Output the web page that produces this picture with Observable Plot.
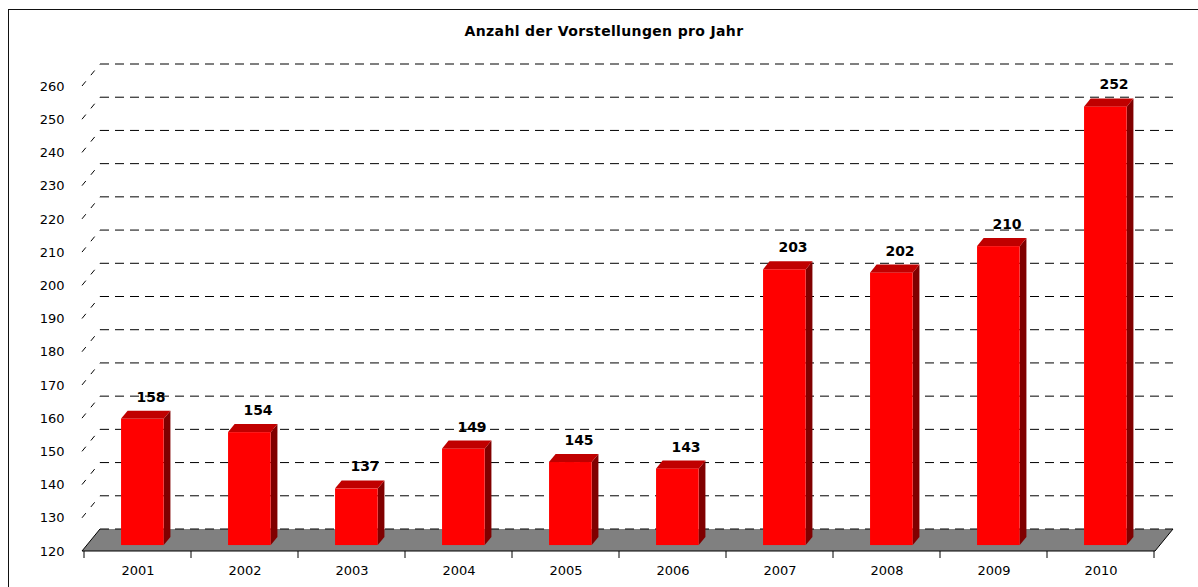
<!DOCTYPE html>
<html>
<head>
<meta charset="utf-8">
<script src="https://cdn.jsdelivr.net/npm/d3@7"></script>
<script src="https://cdn.jsdelivr.net/npm/@observablehq/plot@0.6"></script>
<style>
  body { margin: 0; background: #fff; font-family: "DejaVu Sans", Verdana, sans-serif; }
  #wrap { position: relative; width: 1198px; height: 587px; overflow: hidden; background: #fff; }
  #frame { position: absolute; left: 8px; top: 9px; width: 1400px; height: 800px;
           border-top: 1.5px solid #111; border-left: 1.5px solid #111; }
  #title { position: absolute; left: 0; width: 1208px; top: 23px; line-height: 17px;
           text-align: center; font-weight: bold; font-size: 14px; letter-spacing: 0.35px; color: #000; }
  #chart { position: absolute; left: 0; top: 0; }
</style>
</head>
<body>
<div id="wrap">
  <div id="frame"></div>
  <div id="chart"></div>
  <div id="title">Anzahl der Vorstellungen pro Jahr</div>
</div>
<script>
// ---- data ----
const years = ["2001", "2002", "2003", "2004", "2005", "2006", "2007", "2008", "2009", "2010"];
const values = [158, 154, 137, 149, 145, 143, 203, 202, 210, 252];
const yTicks = [120, 130, 140, 150, 160, 170, 180, 190, 200, 210, 220, 230, 240, 250, 260];
const yDomain = [120, 260];

const data = years.map((year, i) => ({year, value: values[i]}));

// ---- layout / 3D look ----
const W = 1198, H = 587;
const ML = 82, MR = 43, MT = 86, MB = 36;
const DEPTH = {dx: 18, dy: -22};       // offset from front plane to back wall
const BAR_FRONT = 0.27, BAR_BACK = 0.64; // depth fractions of bar faces
const BAR_FRAC = 0.4;                    // bar width as fraction of band
const bandW = (W - ML - MR) / years.length;
const inset = bandW * (1 - BAR_FRAC) / 2;
const fdx = DEPTH.dx * BAR_FRONT, fdy = DEPTH.dy * BAR_FRONT;
const ddx = DEPTH.dx * (BAR_BACK - BAR_FRONT), ddy = DEPTH.dy * (BAR_BACK - BAR_FRONT);

function bw(sx) { return sx.bandwidth ? sx.bandwidth() : bandW; }

// back wall, floor, side wall lines, x-axis ticks
function scene(index, scales, vals, dims) {
  const sx = scales.x, sy = scales.y;
  const x0 = dims.marginLeft, x1 = dims.width - dims.marginRight;
  const yb = sy(yDomain[0]);
  const g = d3.create("svg:g");
  g.append("polygon")
    .attr("points", [[x0, yb], [x1, yb], [x1 + DEPTH.dx, yb + DEPTH.dy], [x0 + DEPTH.dx, yb + DEPTH.dy]].map(p => p.join(",")).join(" "))
    .attr("fill", "#808080");
  for (const v of yTicks) {
    const y = sy(v) + DEPTH.dy;
    g.append("line")
      .attr("x1", x0 + DEPTH.dx).attr("x2", x1 + DEPTH.dx)
      .attr("y1", y).attr("y2", y)
      .attr("stroke", "#000").attr("stroke-width", 1)
      .attr("stroke-dasharray", "9,6");
  }
  for (const v of yTicks) {
    if (v === yDomain[0]) continue;
    const y = sy(v);
    g.append("line")
      .attr("x1", x0).attr("y1", y)
      .attr("x2", x0 + DEPTH.dx).attr("y2", y + DEPTH.dy)
      .attr("stroke", "#000").attr("stroke-width", 1)
      .attr("stroke-dasharray", "6,8");
  }
  g.append("polyline")
    .attr("points", [[x0 + DEPTH.dx, yb + DEPTH.dy], [x0, yb], [x1, yb], [x1 + DEPTH.dx, yb + DEPTH.dy]].map(p => p.join(",")).join(" "))
    .attr("fill", "none").attr("stroke", "#000").attr("stroke-width", 1);
  const b = bw(sx);
  const edges = years.map(y => sx(y)).concat([sx(years[years.length - 1]) + b]);
  for (const x of edges) {
    g.append("line")
      .attr("x1", x).attr("x2", x)
      .attr("y1", yb).attr("y2", yb + 7)
      .attr("stroke", "#000").attr("stroke-width", 1);
  }
  return g.node();
}

// bar side and top faces
function barFaces(index, scales, vals, dims) {
  const sx = scales.x, sy = scales.y;
  const g = d3.create("svg:g");
  const b = bw(sx);
  const barW = b * BAR_FRAC;
  const ybase = sy(yDomain[0]) + fdy;
  for (const d of data) {
    const xl = sx(d.year) + (b - barW) / 2 + fdx;
    const xr = xl + barW;
    const yt = sy(d.value) + fdy;
    g.append("polygon")
      .attr("points", [[xr, ybase], [xr + ddx, ybase + ddy], [xr + ddx, yt + ddy], [xr, yt]].map(p => p.join(",")).join(" "))
      .attr("fill", "#800000");
    g.append("polygon")
      .attr("points", [[xl, yt], [xr, yt], [xr + ddx, yt + ddy], [xl + ddx, yt + ddy]].map(p => p.join(",")).join(" "))
      .attr("fill", "#c00000");
  }
  return g.node();
}

const chart = Plot.plot({
  width: W,
  height: H,
  marginLeft: ML,
  marginRight: MR,
  marginTop: MT,
  marginBottom: MB,
  style: {fontFamily: "DejaVu Sans, Verdana, sans-serif", fontSize: "13px", color: "#000", background: "transparent"},
  x: {type: "band", domain: years, padding: 0, axis: null},
  y: {domain: yDomain, axis: null},
  marks: [
    scene,
    barFaces,
    Plot.barY(data, {x: "year", y1: yDomain[0], y2: "value", fill: "#ff0000",
      insetLeft: inset, insetRight: inset, dx: fdx, dy: fdy}),
    Plot.text(data, {x: "year", y: "value", text: d => String(d.value),
      dx: 13, dy: fdy + ddy - 14, fontWeight: "bold", fontSize: 14, lineAnchor: "middle", fill: "#000"}),
    Plot.text(yTicks, {y: d => d, text: d => String(d), frameAnchor: "left", dx: -18,
      textAnchor: "end", lineAnchor: "middle", fontSize: 13, fill: "#000"}),
    Plot.text(years, {x: d => d, text: d => d, frameAnchor: "bottom", dy: 19,
      lineAnchor: "middle", fontSize: 13, fill: "#000"})
  ]
});
document.getElementById("chart").appendChild(chart);
</script>
</body>
</html>
